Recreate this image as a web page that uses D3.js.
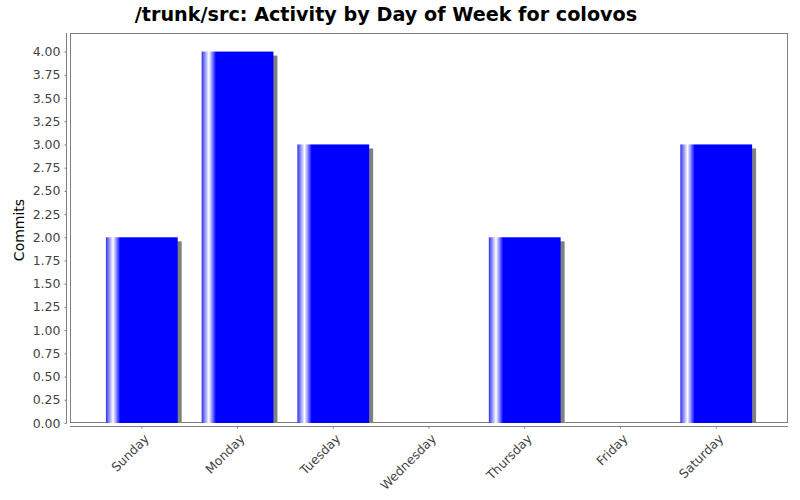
<!DOCTYPE html>
<html><head><meta charset="utf-8">
<script src="https://cdn.jsdelivr.net/npm/d3@7"></script>
<style>body{margin:0;background:#fff}svg{display:block}</style>
</head><body>
<svg id="c" width="800" height="500"></svg>
<script>
const title = "/trunk/src: Activity by Day of Week for colovos";
const yLabel = "Commits";
const days = ["Sunday","Monday","Tuesday","Wednesday","Thursday","Friday","Saturday"];
const commits = [2, 4, 3, 0, 2, 0, 3];
const yTicks = [0,0.25,0.5,0.75,1,1.25,1.5,1.75,2,2.25,2.5,2.75,3,3.25,3.5,3.75,4];

const svg = d3.select("#c");
const L = 70, R = 788, T = 33, B = 423;
const font = "DejaVu Sans, sans-serif";

const x = d3.scaleBand().domain(days).range([L, R]).paddingInner(0.25).paddingOuter(0.375);
const y = d3.scaleLinear().domain([0, 4.2]).range([B, T]);

const defs = svg.append("defs");
const g = defs.append("linearGradient").attr("id","bg").attr("x1","0").attr("x2","1").attr("y1","0").attr("y2","0");
g.append("stop").attr("offset","0").attr("stop-color","#3030ee");
g.append("stop").attr("offset","0.10").attr("stop-color","#ffffff");
g.append("stop").attr("offset","0.20").attr("stop-color","#0000ff");
g.append("stop").attr("offset","1").attr("stop-color","#0000ff");
defs.append("clipPath").attr("id","pc").append("rect").attr("x",L).attr("y",T).attr("width",R-L).attr("height",B-T);

// title
svg.append("text").attr("x", 386).attr("y", 21).attr("text-anchor","middle")
  .attr("font-family", font).attr("font-weight","bold").attr("font-size", 19.2).attr("fill","#000").text(title);

// plot border
svg.append("rect").attr("x", L+0.5).attr("y", T+0.5).attr("width", R-L-1).attr("height", B-T-1)
  .attr("fill","#fff").attr("stroke","#808080");

const data = days.map((d,i)=>({d, v: commits[i]}));
const pg = svg.append("g").attr("clip-path","url(#pc)");
// shadows
pg.selectAll("rect.sh").data(data.filter(e=>e.v>0)).join("rect").attr("class","sh")
  .attr("x", e=>x(e.d)+4).attr("y", e=>y(e.v)+4).attr("width", x.bandwidth()).attr("height", e=>B - y(e.v))
  .attr("fill","#808080");
// bars
pg.selectAll("rect.bar").data(data.filter(e=>e.v>0)).join("rect").attr("class","bar")
  .attr("x", e=>x(e.d)).attr("y", e=>y(e.v)).attr("width", x.bandwidth()).attr("height", e=>B - y(e.v))
  .attr("fill","url(#bg)");

// y axis
const ya = svg.append("g").attr("transform", `translate(${L-3.5},0)`)
  .call(d3.axisLeft(y).tickValues(yTicks).tickFormat(d3.format(".2f")).tickSize(2).tickSizeOuter(0));
ya.select(".domain").attr("stroke","#808080").attr("d", `M0,${T}V${B+0.5}`);
ya.selectAll(".tick line").attr("stroke","#808080");
ya.selectAll(".tick text").attr("font-family", font).attr("font-size", 12.5).attr("fill","#444").attr("x",-6);

// x axis
const xa = svg.append("g").attr("transform", `translate(0,${B+3.5})`)
  .call(d3.axisBottom(x).tickSize(2).tickSizeOuter(0));
xa.select(".domain").attr("stroke","#808080").attr("d", `M${L},0H${R}`);
xa.selectAll(".tick line").attr("stroke","#808080");
xa.selectAll(".tick text").attr("font-family", font).attr("font-size", 12.5).attr("fill","#444")
  .attr("text-anchor","end").attr("dy", null).attr("y", 0)
  .attr("transform","translate(8,13) rotate(-45)");

// y label
svg.append("text").attr("transform","translate(24,230) rotate(-90)").attr("text-anchor","middle")
  .attr("font-family", font).attr("font-size", 14).attr("fill","#000").text(yLabel);
</script>
</body></html>
